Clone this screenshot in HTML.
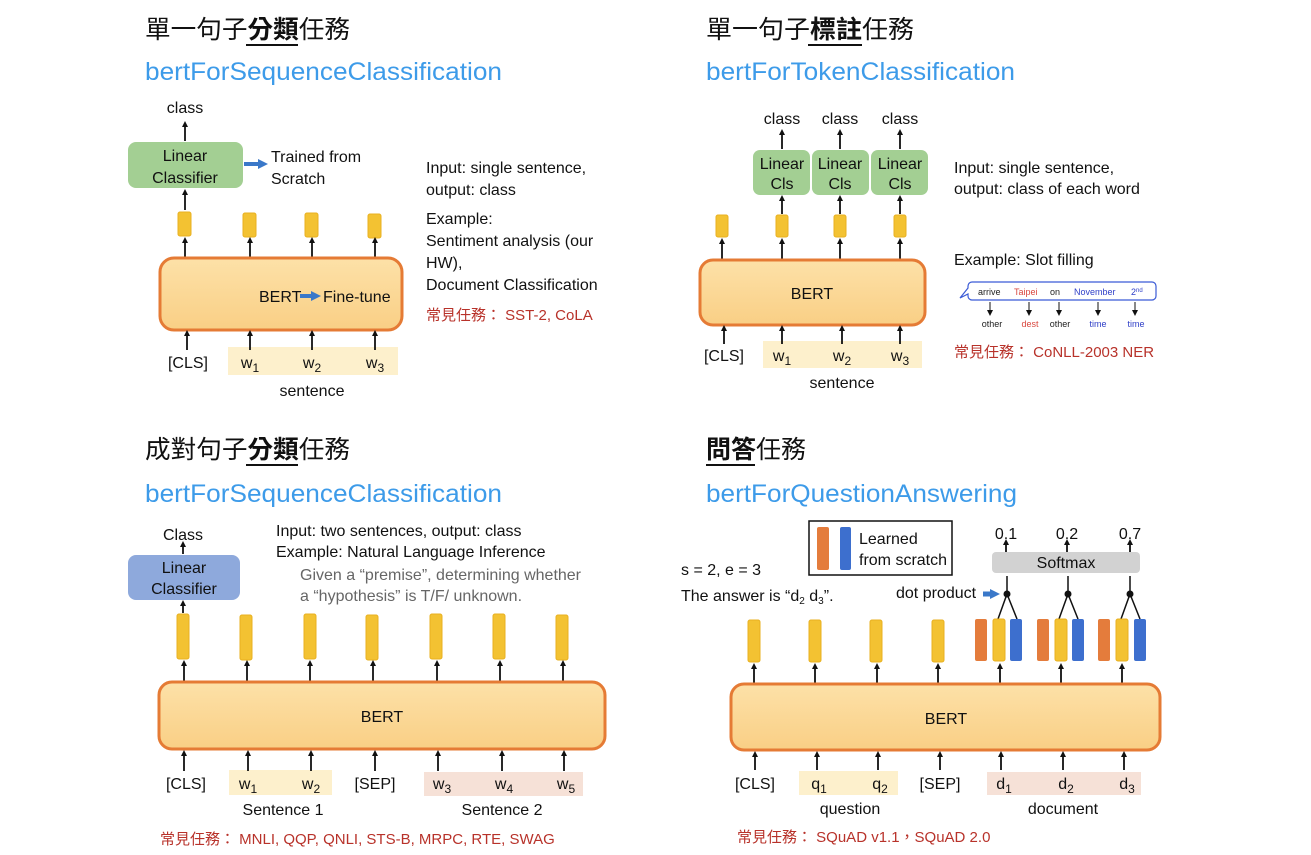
<!DOCTYPE html>
<html><head><meta charset="utf-8"><style>
html,body{margin:0;padding:0;background:#fff;}
svg{display:block;font-family:"Liberation Sans","Noto Sans CJK TC",sans-serif;}
.t{font-size:16px;fill:#111;}
.ti{font-size:25px;fill:#111;font-family:"Liberation Sans","Noto Sans CJK TC",sans-serif;}
.sub{font-size:25px;fill:#3d9be9;}
.red{font-size:15px;fill:#b8322a;}
.c{text-anchor:middle;}
.a{stroke:#111;stroke-width:1.8;marker-end:url(#ah);}
.bert{fill:url(#bg);stroke:#e57b35;stroke-width:3;}
.y{fill:#f3c232;stroke:#e8b020;stroke-width:1;}
</style></head><body>
<svg width="1311" height="855" viewBox="0 0 1311 855" xmlns="http://www.w3.org/2000/svg">
<defs>
<marker id="ah" markerWidth="6" markerHeight="6" refX="3" refY="3" orient="auto" markerUnits="userSpaceOnUse"><path d="M0,0 L6,3 L0,6 z" fill="#111"/></marker>
<marker id="bh" markerWidth="10" markerHeight="10" refX="2" refY="5" orient="auto" markerUnits="userSpaceOnUse"><path d="M0,0 L10,5 L0,10 z" fill="#3a78c9"/></marker>
<linearGradient id="bg" x1="0" y1="0" x2="0" y2="1"><stop offset="0" stop-color="#fde1a8"/><stop offset="1" stop-color="#f9cf85"/></linearGradient>
</defs>

<!-- Q1 -->
<text x="145" y="38" class="ti" textLength="205" lengthAdjust="spacingAndGlyphs">單一句子<tspan font-weight="bold">分類</tspan>任務</text>
<line x1="246" y1="45" x2="298" y2="45" stroke="#111" stroke-width="2"/>
<text x="145" y="80" class="sub" textLength="357" lengthAdjust="spacingAndGlyphs">bertForSequenceClassification</text>
<text x="185" y="113" class="t c">class</text>
<line x1="185" y1="141" x2="185" y2="124" class="a"/>
<rect x="128" y="142" width="115" height="46" rx="8" fill="#a3cf93"/>
<text x="185" y="161" class="t c">Linear</text><text x="185" y="183" class="t c">Classifier</text>
<line x1="244" y1="164" x2="260" y2="164" stroke="#3a78c9" stroke-width="4" marker-end="url(#bh)"/>
<text x="271" y="162" class="t">Trained from</text><text x="271" y="184" class="t">Scratch</text>
<line x1="185" y1="210" x2="185" y2="192" class="a"/>
<rect x="178" y="212" width="13" height="24" rx="2" class="y"/>
<rect x="243" y="213" width="13" height="24" rx="2" class="y"/>
<rect x="305" y="213" width="13" height="24" rx="2" class="y"/>
<rect x="368" y="214" width="13" height="24" rx="2" class="y"/>
<line x1="185" y1="258" x2="185" y2="240" class="a"/><line x1="250" y1="258" x2="250" y2="240" class="a"/><line x1="312" y1="258" x2="312" y2="240" class="a"/><line x1="375" y1="258" x2="375" y2="240" class="a"/>
<rect x="160" y="258" width="242" height="72" rx="14" class="bert"/>
<text x="259" y="302" class="t" font-size="17">BERT</text>
<line x1="300" y1="296" x2="313" y2="296" stroke="#3a78c9" stroke-width="4" marker-end="url(#bh)"/>
<text x="323" y="302" class="t" font-size="17">Fine-tune</text>
<rect x="228" y="347" width="170" height="28" fill="#fdf0cc"/>
<line x1="187" y1="350" x2="187" y2="333" class="a"/><line x1="250" y1="350" x2="250" y2="333" class="a"/><line x1="312" y1="350" x2="312" y2="333" class="a"/><line x1="375" y1="350" x2="375" y2="333" class="a"/>
<text x="188" y="368" class="t c" font-size="18">[CLS]</text>
<text x="250" y="368" class="t c" font-size="18">w<tspan font-size="12" dy="4">1</tspan></text>
<text x="312" y="368" class="t c" font-size="18">w<tspan font-size="12" dy="4">2</tspan></text>
<text x="375" y="368" class="t c" font-size="18">w<tspan font-size="12" dy="4">3</tspan></text>
<text x="312" y="396" class="t c">sentence</text>
<text x="426" y="173" class="t">Input: single sentence,</text>
<text x="426" y="195" class="t">output: class</text>
<text x="426" y="224" class="t">Example:</text>
<text x="426" y="246" class="t">Sentiment analysis (our</text>
<text x="426" y="268" class="t">HW),</text>
<text x="426" y="290" class="t">Document Classification</text>
<text x="426" y="320" class="red">常見任務： SST-2, CoLA</text>

<!-- Q2 -->
<text x="706" y="38" class="ti" textLength="208" lengthAdjust="spacingAndGlyphs">單一句子<tspan font-weight="bold">標註</tspan>任務</text>
<line x1="808" y1="45" x2="862" y2="45" stroke="#111" stroke-width="2"/>
<text x="706" y="80" class="sub" textLength="309" lengthAdjust="spacingAndGlyphs">bertForTokenClassification</text>
<text x="782" y="124" class="t c">class</text><text x="840" y="124" class="t c">class</text><text x="900" y="124" class="t c">class</text>
<line x1="782" y1="149" x2="782" y2="132" class="a"/><line x1="840" y1="149" x2="840" y2="132" class="a"/><line x1="900" y1="149" x2="900" y2="132" class="a"/>
<rect x="753" y="150" width="57" height="45" rx="7" fill="#a3cf93"/>
<rect x="812" y="150" width="57" height="45" rx="7" fill="#a3cf93"/>
<rect x="871" y="150" width="57" height="45" rx="7" fill="#a3cf93"/>
<text x="782" y="169" class="t c">Linear</text><text x="782" y="189" class="t c">Cls</text>
<text x="840" y="169" class="t c">Linear</text><text x="840" y="189" class="t c">Cls</text>
<text x="900" y="169" class="t c">Linear</text><text x="900" y="189" class="t c">Cls</text>
<line x1="782" y1="214" x2="782" y2="198" class="a"/><line x1="840" y1="214" x2="840" y2="198" class="a"/><line x1="900" y1="214" x2="900" y2="198" class="a"/>
<rect x="716" y="215" width="12" height="22" rx="2" class="y"/>
<rect x="776" y="215" width="12" height="22" rx="2" class="y"/>
<rect x="834" y="215" width="12" height="22" rx="2" class="y"/>
<rect x="894" y="215" width="12" height="22" rx="2" class="y"/>
<line x1="722" y1="260" x2="722" y2="241" class="a"/><line x1="782" y1="260" x2="782" y2="241" class="a"/><line x1="840" y1="260" x2="840" y2="241" class="a"/><line x1="900" y1="260" x2="900" y2="241" class="a"/>
<rect x="700" y="260" width="225" height="65" rx="13" class="bert"/>
<text x="812" y="299" class="t c" font-size="17">BERT</text>
<rect x="763" y="341" width="159" height="27" fill="#fdf0cc"/>
<line x1="724" y1="344" x2="724" y2="328" class="a"/><line x1="782" y1="344" x2="782" y2="328" class="a"/><line x1="842" y1="344" x2="842" y2="328" class="a"/><line x1="900" y1="344" x2="900" y2="328" class="a"/>
<text x="724" y="361" class="t c" font-size="18">[CLS]</text>
<text x="782" y="361" class="t c" font-size="18">w<tspan font-size="12" dy="4">1</tspan></text>
<text x="842" y="361" class="t c" font-size="18">w<tspan font-size="12" dy="4">2</tspan></text>
<text x="900" y="361" class="t c" font-size="18">w<tspan font-size="12" dy="4">3</tspan></text>
<text x="842" y="388" class="t c">sentence</text>
<text x="954" y="173" class="t">Input: single sentence,</text>
<text x="954" y="194" class="t">output: class of each word</text>
<text x="954" y="265" class="t">Example: Slot filling</text>
<path d="M972,282 h180 a4,4 0 0 1 4,4 v10 a4,4 0 0 1 -4,4 h-180 a4,4 0 0 1 -4,-4 v-2 l-8,4 l8,-10 v-2 a4,4 0 0 1 4,-4z" fill="#fff" stroke="#3b5bd6" stroke-width="1.2"/>
<text x="978" y="295" font-size="9" fill="#222">arrive</text>
<text x="1014" y="295" font-size="9" fill="#d9473e">Taipei</text>
<text x="1050" y="295" font-size="9" fill="#222">on</text>
<text x="1074" y="295" font-size="9" fill="#3040c8">November</text>
<text x="1131" y="295" font-size="9" fill="#3040c8">2<tspan font-size="6" dy="-3">nd</tspan></text>
<line x1="990" y1="302" x2="990" y2="313" stroke="#111" marker-end="url(#ah)"/>
<line x1="1029" y1="302" x2="1029" y2="313" stroke="#111" marker-end="url(#ah)"/>
<line x1="1059" y1="302" x2="1059" y2="313" stroke="#111" marker-end="url(#ah)"/>
<line x1="1098" y1="302" x2="1098" y2="313" stroke="#111" marker-end="url(#ah)"/>
<line x1="1135" y1="302" x2="1135" y2="313" stroke="#111" marker-end="url(#ah)"/>
<text x="992" y="327" font-size="9" fill="#222" class="c">other</text>
<text x="1030" y="327" font-size="9" fill="#d9473e" class="c">dest</text>
<text x="1060" y="327" font-size="9" fill="#222" class="c">other</text>
<text x="1098" y="327" font-size="9" fill="#3040c8" class="c">time</text>
<text x="1136" y="327" font-size="9" fill="#3040c8" class="c">time</text>
<text x="954" y="357" class="red">常見任務： CoNLL-2003 NER</text>

<!-- Q3 -->
<text x="145" y="458" class="ti" textLength="205" lengthAdjust="spacingAndGlyphs">成對句子<tspan font-weight="bold">分類</tspan>任務</text>
<line x1="246" y1="465" x2="298" y2="465" stroke="#111" stroke-width="2"/>
<text x="145" y="502" class="sub" textLength="357" lengthAdjust="spacingAndGlyphs">bertForSequenceClassification</text>
<text x="183" y="540" class="t c">Class</text>
<line x1="183" y1="554" x2="183" y2="544" class="a"/>
<rect x="128" y="555" width="112" height="45" rx="8" fill="#8ea9dc"/>
<text x="184" y="573" class="t c">Linear</text><text x="184" y="594" class="t c">Classifier</text>
<line x1="183" y1="613" x2="183" y2="603" class="a"/>
<rect x="177" y="614" width="12" height="45" rx="2" class="y"/>
<rect x="240" y="615" width="12" height="45" rx="2" class="y"/>
<rect x="304" y="614" width="12" height="45" rx="2" class="y"/>
<rect x="366" y="615" width="12" height="45" rx="2" class="y"/>
<rect x="430" y="614" width="12" height="45" rx="2" class="y"/>
<rect x="493" y="614" width="12" height="45" rx="2" class="y"/>
<rect x="556" y="615" width="12" height="45" rx="2" class="y"/>
<line x1="184" y1="681" x2="184" y2="663" class="a"/><line x1="247" y1="681" x2="247" y2="663" class="a"/><line x1="310" y1="681" x2="310" y2="663" class="a"/><line x1="373" y1="681" x2="373" y2="663" class="a"/><line x1="437" y1="681" x2="437" y2="663" class="a"/><line x1="500" y1="681" x2="500" y2="663" class="a"/><line x1="563" y1="681" x2="563" y2="663" class="a"/>
<rect x="159" y="682" width="446" height="67" rx="13" class="bert"/>
<text x="382" y="722" class="t c" font-size="17">BERT</text>
<rect x="229" y="770" width="103" height="25" fill="#fdf0cc"/>
<rect x="424" y="772" width="159" height="24" fill="#f6e1d7"/>
<line x1="184" y1="771" x2="184" y2="753" class="a"/><line x1="248" y1="771" x2="248" y2="753" class="a"/><line x1="311" y1="771" x2="311" y2="753" class="a"/><line x1="375" y1="771" x2="375" y2="753" class="a"/><line x1="438" y1="771" x2="438" y2="753" class="a"/><line x1="502" y1="771" x2="502" y2="753" class="a"/><line x1="564" y1="771" x2="564" y2="753" class="a"/>
<text x="186" y="789" class="t c" font-size="18">[CLS]</text>
<text x="248" y="789" class="t c" font-size="18">w<tspan font-size="12" dy="4">1</tspan></text>
<text x="311" y="789" class="t c" font-size="18">w<tspan font-size="12" dy="4">2</tspan></text>
<text x="375" y="789" class="t c" font-size="18">[SEP]</text>
<text x="442" y="789" class="t c" font-size="18">w<tspan font-size="12" dy="4">3</tspan></text>
<text x="504" y="789" class="t c" font-size="18">w<tspan font-size="12" dy="4">4</tspan></text>
<text x="566" y="789" class="t c" font-size="18">w<tspan font-size="12" dy="4">5</tspan></text>
<text x="283" y="815" class="t c">Sentence 1</text>
<text x="502" y="815" class="t c">Sentence 2</text>
<text x="276" y="536" class="t">Input: two sentences, output: class</text>
<text x="276" y="557" class="t">Example: Natural Language Inference</text>
<text x="300" y="580" class="t" style="fill:#666">Given a “premise”, determining whether</text>
<text x="300" y="601" class="t" style="fill:#666">a “hypothesis” is T/F/ unknown.</text>
<text x="160" y="844" class="red">常見任務： MNLI, QQP, QNLI, STS-B, MRPC, RTE, SWAG</text>

<!-- Q4 -->
<text x="706" y="458" class="ti" textLength="100" lengthAdjust="spacingAndGlyphs"><tspan font-weight="bold">問答</tspan>任務</text>
<line x1="706" y1="465" x2="755" y2="465" stroke="#111" stroke-width="2"/>
<text x="706" y="502" class="sub" textLength="311" lengthAdjust="spacingAndGlyphs">bertForQuestionAnswering</text>
<rect x="809" y="521" width="143" height="54" fill="#fff" stroke="#111" stroke-width="1.5"/>
<rect x="817" y="527" width="12" height="43" rx="2" fill="#e47c3c"/>
<rect x="840" y="527" width="11" height="43" rx="2" fill="#3d6fce"/>
<text x="859" y="544" class="t">Learned</text><text x="859" y="565" class="t">from scratch</text>
<text x="681" y="575" class="t" font-size="15">s = 2, e = 3</text>
<text x="681" y="601" class="t" font-size="15">The answer is “d<tspan font-size="10" dy="3">2</tspan><tspan dy="-3"> d</tspan><tspan font-size="10" dy="3">3</tspan><tspan dy="-3">”.</tspan></text>
<text x="1006" y="539" class="t c" font-size="15">0.1</text><text x="1067" y="539" class="t c" font-size="15">0.2</text><text x="1130" y="539" class="t c" font-size="15">0.7</text>
<line x1="1006" y1="552" x2="1006" y2="542" class="a"/><line x1="1067" y1="552" x2="1067" y2="542" class="a"/><line x1="1130" y1="552" x2="1130" y2="542" class="a"/>
<rect x="992" y="552" width="148" height="21" rx="4" fill="#d2d2d2"/>
<text x="1066" y="568" class="t c">Softmax</text>
<text x="896" y="598" class="t" font-size="15">dot product</text>
<line x1="983" y1="594" x2="992" y2="594" stroke="#3a78c9" stroke-width="5" marker-end="url(#bh)"/>
<g stroke="#111" stroke-width="1.5" fill="none">
<line x1="1007" y1="594" x2="1007" y2="576"/><line x1="1007" y1="594" x2="998" y2="619"/><line x1="1007" y1="594" x2="1017" y2="619"/>
<line x1="1068" y1="594" x2="1068" y2="576"/><line x1="1068" y1="594" x2="1059" y2="619"/><line x1="1068" y1="594" x2="1078" y2="619"/>
<line x1="1130" y1="594" x2="1130" y2="576"/><line x1="1130" y1="594" x2="1121" y2="619"/><line x1="1130" y1="594" x2="1140" y2="619"/>
</g>
<circle cx="1007" cy="594" r="3.5" fill="#111"/><circle cx="1068" cy="594" r="3.5" fill="#111"/><circle cx="1130" cy="594" r="3.5" fill="#111"/>
<rect x="748" y="620" width="12" height="42" rx="2" class="y"/>
<rect x="809" y="620" width="12" height="42" rx="2" class="y"/>
<rect x="870" y="620" width="12" height="42" rx="2" class="y"/>
<rect x="932" y="620" width="12" height="42" rx="2" class="y"/>
<rect x="975" y="619" width="12" height="42" rx="2" fill="#e47c3c"/>
<rect x="993" y="619" width="12" height="42" rx="2" class="y"/>
<rect x="1010" y="619" width="12" height="42" rx="2" fill="#3d6fce"/>
<rect x="1037" y="619" width="12" height="42" rx="2" fill="#e47c3c"/>
<rect x="1055" y="619" width="12" height="42" rx="2" class="y"/>
<rect x="1072" y="619" width="12" height="42" rx="2" fill="#3d6fce"/>
<rect x="1098" y="619" width="12" height="42" rx="2" fill="#e47c3c"/>
<rect x="1116" y="619" width="12" height="42" rx="2" class="y"/>
<rect x="1134" y="619" width="12" height="42" rx="2" fill="#3d6fce"/>
<line x1="754" y1="684" x2="754" y2="666" class="a"/><line x1="815" y1="684" x2="815" y2="666" class="a"/><line x1="877" y1="684" x2="877" y2="666" class="a"/><line x1="938" y1="684" x2="938" y2="666" class="a"/><line x1="1000" y1="684" x2="1000" y2="666" class="a"/><line x1="1061" y1="684" x2="1061" y2="666" class="a"/><line x1="1122" y1="684" x2="1122" y2="666" class="a"/>
<rect x="731" y="684" width="429" height="66" rx="13" class="bert"/>
<text x="946" y="724" class="t c" font-size="17">BERT</text>
<rect x="799" y="771" width="99" height="24" fill="#fdf0cc"/>
<rect x="987" y="772" width="154" height="23" fill="#f6e1d7"/>
<line x1="755" y1="770" x2="755" y2="754" class="a"/><line x1="817" y1="770" x2="817" y2="754" class="a"/><line x1="878" y1="770" x2="878" y2="754" class="a"/><line x1="940" y1="770" x2="940" y2="754" class="a"/><line x1="1001" y1="770" x2="1001" y2="754" class="a"/><line x1="1063" y1="770" x2="1063" y2="754" class="a"/><line x1="1124" y1="770" x2="1124" y2="754" class="a"/>
<text x="755" y="789" class="t c" font-size="18">[CLS]</text>
<text x="819" y="789" class="t c" font-size="18">q<tspan font-size="12" dy="4">1</tspan></text>
<text x="880" y="789" class="t c" font-size="18">q<tspan font-size="12" dy="4">2</tspan></text>
<text x="940" y="789" class="t c" font-size="18">[SEP]</text>
<text x="1004" y="789" class="t c" font-size="18">d<tspan font-size="12" dy="4">1</tspan></text>
<text x="1066" y="789" class="t c" font-size="18">d<tspan font-size="12" dy="4">2</tspan></text>
<text x="1127" y="789" class="t c" font-size="18">d<tspan font-size="12" dy="4">3</tspan></text>
<text x="850" y="814" class="t c">question</text>
<text x="1063" y="814" class="t c">document</text>
<text x="737" y="842" class="red">常見任務： SQuAD v1.1，SQuAD 2.0</text>
</svg>
</body></html>
